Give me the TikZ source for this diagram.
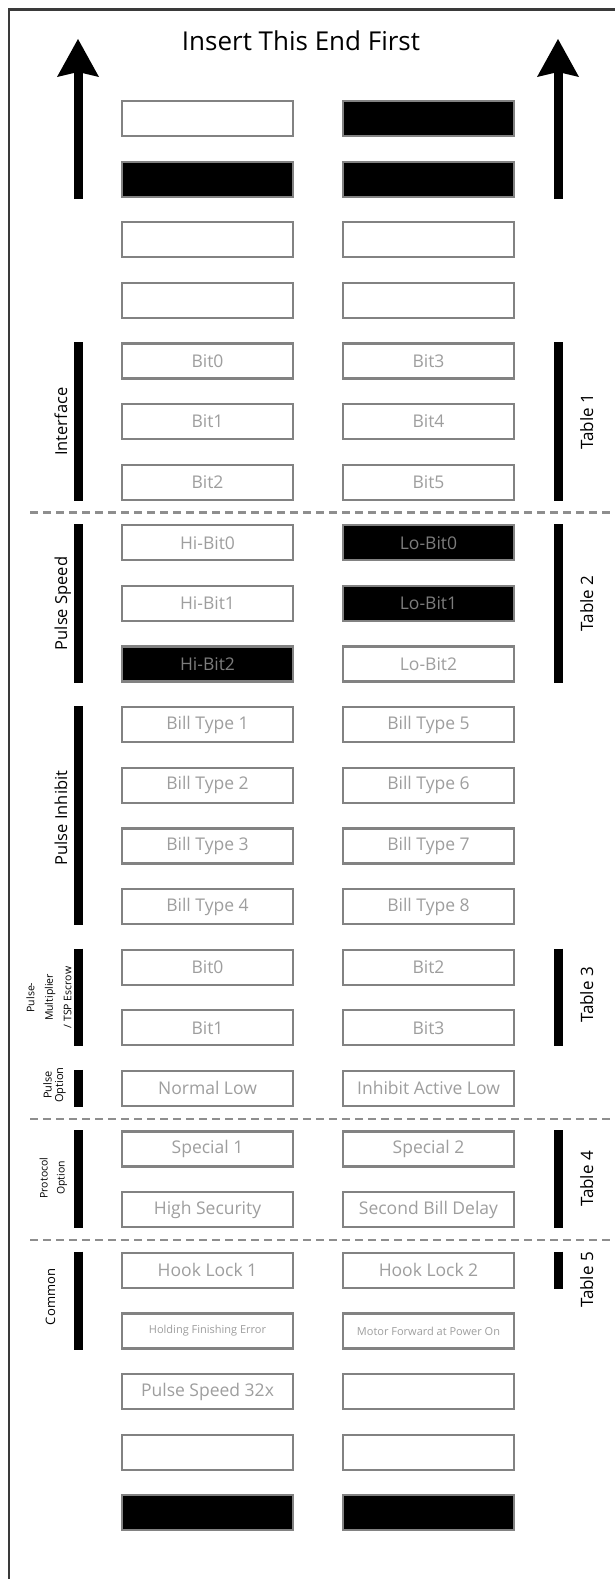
\documentclass[tikz,border=0pt]{standalone}
\usepackage{fontspec}
\setmainfont{Open Sans}
\usepackage{tikz}
\usetikzlibrary{
  arrows.meta,
  positioning,
}
\definecolor{slotEdge}{HTML}{828282}
\definecolor{slotText}{HTML}{9E9E9E}
\definecolor{slotTextDark}{HTML}{7C7C7C}
\definecolor{sepGray}{HTML}{8E8E8E}
\definecolor{frameCol}{HTML}{3A3A3A}
\tikzset{
  slot/.style={
    rectangle, draw=slotEdge, line width=2.2pt, fill=white,
    minimum width=171pt, minimum height=35pt, inner sep=0pt,
    text=slotText, font=\fontsize{17.5}{20}\selectfont,
  },
  slotdark/.style={
    slot, fill=black, text=slotTextDark,
  },
  slotsmall/.style={
    slot, font=\fontsize{11}{13}\selectfont,
  },
  grpbar/.style={
    line width=9pt, draw=black,
  },
  grplbl/.style={
    rotate=90, anchor=base, inner sep=0pt, font=\fontsize{16.5}{19}\selectfont,
  },
  grplblTiny/.style={
    rotate=90, align=center, inner sep=0pt, font=\fontsize{#1}{#1}\selectfont,
  },
  tbllbl/.style={
    rotate=90, anchor=base, inner sep=0pt, font=\fontsize{17}{20}\selectfont,
  },
  sepline/.style={
    draw=sepGray, line width=2.3pt, dash pattern=on 8pt off 5pt,
  },
  bigarrow/.style={
    -{Stealth[length=38pt,width=42pt,inset=5pt,line width=0pt]},
    line width=9pt, draw=black,
  },
}

\begin{document}
\begin{tikzpicture}[x=1pt, y=-1pt]
\useasboundingbox (0,0) rectangle (615,1579);

% outer frame (only left and top edges show)
\coordinate (frameBL) at (9,1579);
\coordinate (frameTL) at (9,9.5);
\coordinate (frameTR) at (615,9.5);
\draw[frameCol, line width=2.4pt] (frameBL) -- (frameTL) -- (frameTR);

\node[anchor=base, font=\fontsize{26}{30}\selectfont] (title) at (301,51)
  {Insert This End First};

% insert arrows
\coordinate (arrLtail) at (78,199);
\coordinate (arrLtip)  at (78,39);
\coordinate (arrRtail) at (558,199);
\coordinate (arrRtip)  at (558,39);
\draw[bigarrow] (arrLtail) -- (arrLtip);
\draw[bigarrow] (arrRtail) -- (arrRtip);

% slots, two columns
\foreach \i/\ls/\lt/\rs/\rt in {
   0/slot/{}/slotdark/{},
   1/slotdark/{}/slotdark/{},
   2/slot/{}/slot/{},
   3/slot/{}/slot/{},
   4/slot/Bit0/slot/Bit3,
   5/slot/Bit1/slot/Bit4,
   6/slot/Bit2/slot/Bit5,
   7/slot/Hi-Bit0/slotdark/Lo-Bit0,
   8/slot/Hi-Bit1/slotdark/Lo-Bit1,
   9/slotdark/Hi-Bit2/slot/Lo-Bit2,
  10/slot/Bill Type 1/slot/Bill Type 5,
  11/slot/Bill Type 2/slot/Bill Type 6,
  12/slot/Bill Type 3/slot/Bill Type 7,
  13/slot/Bill Type 4/slot/Bill Type 8,
  14/slot/Bit0/slot/Bit2,
  15/slot/Bit1/slot/Bit3,
  16/slot/Normal Low/slot/Inhibit Active Low,
  17/slot/Special 1/slot/Special 2,
  18/slot/High Security/slot/Second Bill Delay,
  19/slot/Hook Lock 1/slot/Hook Lock 2,
  20/slotsmall/Holding Finishing Error/slotsmall/Motor Forward at Power On,
  21/slot/Pulse Speed 32x/slot/{},
  22/slot/{}/slot/{},
  23/slotdark/{}/slotdark/{}%
}{
  \node[\ls] (l\i) at (207.5, 118.5+60.62*\i) {\lt};
  \node[\rs] (r\i) at (428.5, 118.5+60.62*\i) {\rt};
}

% section separators
\draw[sepline] (30,512.5)  -- (615,512.5);
\draw[sepline] (30,1118.7) -- (615,1118.7);
\draw[sepline] (30,1240)   -- (615,1240);

% group bars, left side
\coordinate (barL) at (78,0);
\coordinate (barR) at (558,0);
\draw[grpbar] (l4.north -| barL)  -- (l6.south -| barL);
\draw[grpbar] (l7.north -| barL)  -- (l9.south -| barL);
\draw[grpbar] (l10.north -| barL) -- (l13.south -| barL);
\draw[grpbar] (l14.north -| barL) -- (l15.south -| barL);
\draw[grpbar] (l16.north -| barL) -- (l16.south -| barL);
\draw[grpbar] (l17.north -| barL) -- (l18.south -| barL);
\draw[grpbar] (l19.north -| barL) -- (l20.south -| barL);

% group bars, right side
\draw[grpbar] (r4.north -| barR)  -- (r6.south -| barR);
\draw[grpbar] (r7.north -| barR)  -- (r9.south -| barR);
\draw[grpbar] (r14.north -| barR) -- (r15.south -| barR);
\draw[grpbar] (r17.north -| barR) -- (r18.south -| barR);
\draw[grpbar] (r19.north -| barR) -- (r19.south -| barR);

% group names
\node[grplbl] (gIface)   at (67,421.6) {Interface};
\node[grplbl] (gSpeed)   at (67,603.5) {Pulse Speed};
\node[grplbl] (gInhibit) at (67,818)   {Pulse Inhibit};
\node[grplblTiny=10.5, execute at begin node=\setlength{\baselineskip}{18.5pt}]
  (gMult) at (49,997.5) {Pulse-\\Multiplier\\/ TSP Escrow};
\node[grplblTiny=11, execute at begin node=\setlength{\baselineskip}{11.5pt}]
  (gPulseOpt) at (54.5,1085) {Pulse\\Option};
\node[grplblTiny=10.5, execute at begin node=\setlength{\baselineskip}{17pt}]
  (gProtoOpt) at (53.5,1178) {Protocol\\Option};
\node[grplbl, font=\fontsize{13}{15}\selectfont] (gCommon) at (55,1297) {Common};

% table names
\node[tbllbl] (tab1) at (593,421.6) {Table 1};
\node[tbllbl] (tab2) at (593,603.5) {Table 2};
\node[tbllbl] (tab3) at (593,995)   {Table 3};
\node[tbllbl] (tab4) at (593,1179)  {Table 4};
\node[tbllbl] (tab5) at (593,1280)  {Table 5};

\end{tikzpicture}
\end{document}
